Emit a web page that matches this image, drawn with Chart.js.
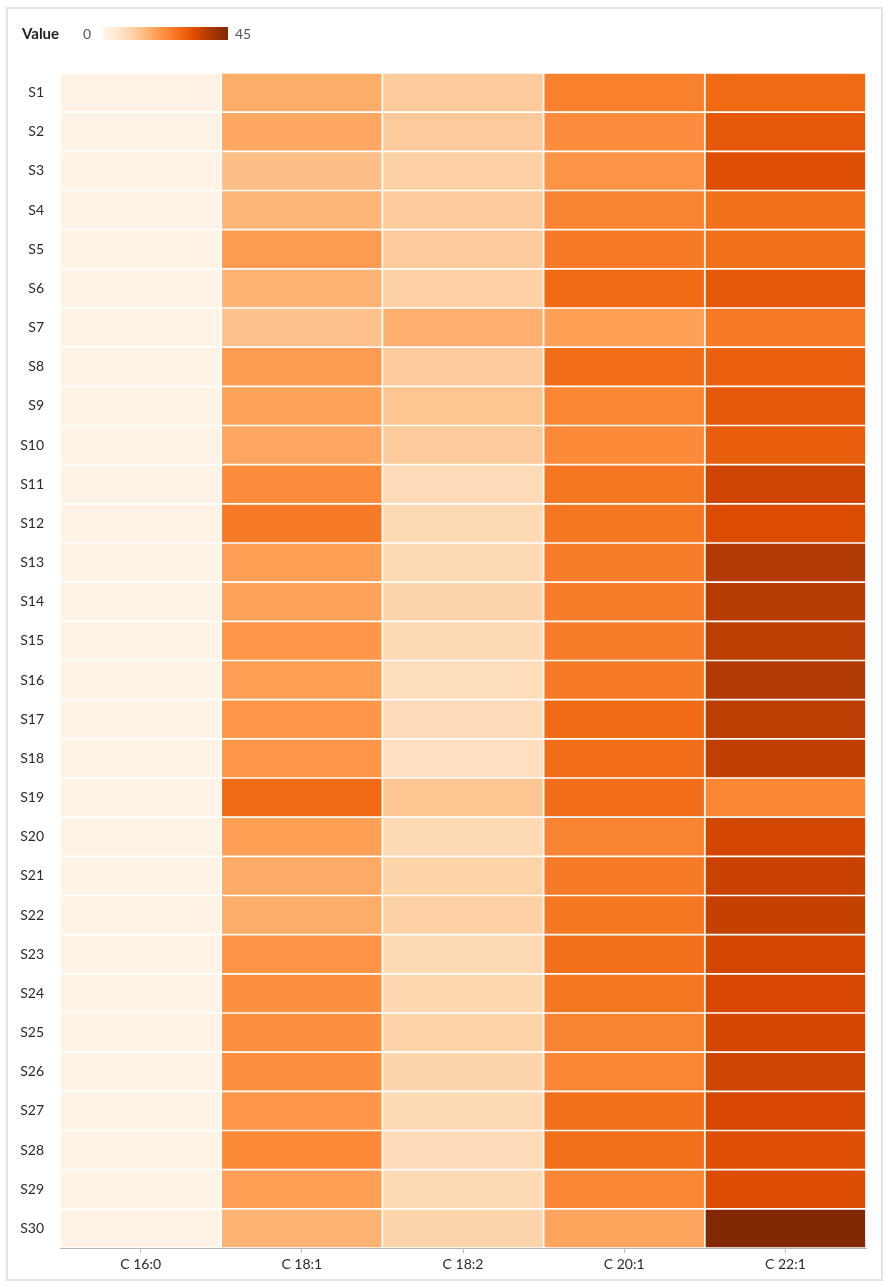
<!DOCTYPE html>
<html>
<head>
<meta charset="utf-8">
<title>Fatty acid heatmap</title>
<script src="https://cdn.jsdelivr.net/npm/chart.js@4/dist/chart.umd.min.js"></script>
<style>
  html, body { margin: 0; padding: 0; background: #ffffff; }
  #wrap { width: 889px; height: 1287px; position: relative; }
</style>
</head>
<body>
<div id="wrap"><canvas id="heat"></canvas></div>
<script>
// Samples (rows) and fatty acids (columns)
const samples = Array.from({ length: 30 }, (_, i) => 'S' + (i + 1));
const acids = ['C 16:0', 'C 18:1', 'C 18:2', 'C 20:1', 'C 22:1'];

// Measured values per fatty acid, S1..S30
const c160 = [0.9, 0.8, 0.9, 0.8, 0.9, 0.8, 0.9, 0.8, 0.9, 0.8,
              0.8, 0.9, 0.8, 0.8, 0.9, 0.8, 0.8, 0.9, 1.0, 0.8,
              0.8, 0.9, 0.8, 0.8, 0.9, 0.8, 0.8, 0.9, 0.8, 0.9];
const c181 = [17, 18, 14, 15.5, 20, 16, 13.5, 20, 19, 18,
              22.5, 25.5, 19.5, 19, 21, 19.5, 21, 21, 28, 19.5,
              17.5, 17, 21.5, 22, 22, 22, 21, 23, 19.5, 16];
const c182 = [12, 12, 11, 12, 12, 11, 16.5, 12, 13, 12,
              8.5, 9, 9, 10, 9, 8, 8.5, 7.5, 13, 9,
              10.5, 11, 9, 9.5, 10.5, 10, 9, 8.5, 9, 10];
const c201 = [24.5, 22.5, 21.5, 24, 25.5, 28, 19.5, 27.5, 23.5, 23,
              26, 26, 25, 25, 25, 25.5, 28, 27.5, 27.5, 24,
              25.5, 26, 27, 26, 24, 23.5, 27, 27, 23.5, 18.5];
const c221 = [28, 31, 32.5, 27, 27, 31, 25.5, 29.5, 31, 30,
              35, 33, 38, 37.5, 37, 38, 37, 36.5, 23.5, 34.5,
              35.5, 36, 34.5, 34, 34.5, 35, 34, 32.5, 33, 44.5];
const columns = [c160, c181, c182, c201, c221];

// Colour scale domain
const scaleMin = 0;
const scaleMax = 45;

// Sequential orange ramp
const ramp = ['#fff5eb', '#fee6ce', '#fdd0a2', '#fdae6b', '#fd8d3c',
              '#f16913', '#d94801', '#a63603', '#7f2704'];

function hexToRgb(h) {
  return [parseInt(h.slice(1, 3), 16), parseInt(h.slice(3, 5), 16), parseInt(h.slice(5, 7), 16)];
}
const rampRgb = ramp.map(hexToRgb);

function colourFor(v) {
  let t = (v - scaleMin) / (scaleMax - scaleMin);
  t = Math.max(0, Math.min(1, t));
  const pos = t * (rampRgb.length - 1);
  const i = Math.min(Math.floor(pos), rampRgb.length - 2);
  const f = pos - i;
  const a = rampRgb[i], b = rampRgb[i + 1];
  const c = a.map((x, k) => Math.round(x + (b[k] - x) * f));
  return 'rgb(' + c.join(',') + ')';
}

// One stacked dataset per fatty acid; every cell spans one unit on x
const datasets = columns.map((vals, ci) => ({
  label: acids[ci],
  data: vals.map(() => 1),
  values: vals,
  backgroundColor: vals.map(colourFor),
  borderColor: '#ffffff',
  borderWidth: 1.2,
  borderSkipped: false,
  barPercentage: 1,
  categoryPercentage: 1
}));

const FONT = 'Lato, "Open Sans", sans-serif';

// Frame and colour legend
const decorations = {
  id: 'decorations',
  beforeDraw(chart) {
    const ctx = chart.ctx;
    ctx.save();
    ctx.fillStyle = '#ffffff';
    ctx.fillRect(0, 0, chart.width, chart.height);
    ctx.strokeStyle = '#e3e3e3';
    ctx.lineWidth = 2;
    ctx.strokeRect(7, 8, chart.width - 14, chart.height - 15);
    ctx.restore();
  },
  afterDraw(chart) {
    const ctx = chart.ctx;
    ctx.save();
    ctx.textBaseline = 'middle';
    ctx.fillStyle = '#1f1f1f';
    ctx.font = 'bold 15px ' + FONT;
    ctx.fillText('Value', 22, 34);
    ctx.fillStyle = '#555555';
    ctx.font = '14px ' + FONT;
    ctx.fillText(String(scaleMin), 83, 34);
    const gx = 103, gy = 27, gw = 125, gh = 13;
    const grad = ctx.createLinearGradient(gx, 0, gx + gw, 0);
    ramp.forEach((c, i) => grad.addColorStop(i / (ramp.length - 1), c));
    ctx.fillStyle = grad;
    ctx.fillRect(gx, gy, gw, gh);
    ctx.fillStyle = '#555555';
    ctx.fillText(String(scaleMax), gx + gw + 7, 34);
    ctx.restore();
  }
};

new Chart(document.getElementById('heat'), {
  type: 'bar',
  data: { labels: samples, datasets },
  options: {
    indexAxis: 'y',
    responsive: true,
    maintainAspectRatio: false,
    animation: false,
    layout: { padding: { left: 10, right: 23, top: 73, bottom: 8 } },
    plugins: {
      legend: { display: false },
      tooltip: {
        callbacks: {
          label: (item) => item.dataset.label + ': ' + item.dataset.values[item.dataIndex]
        }
      }
    },
    scales: {
      x: {
        type: 'linear',
        stacked: true,
        min: 0,
        max: acids.length,
        afterBuildTicks: (axis) => {
          axis.ticks = acids.map((_, i) => ({ value: i + 0.5 }));
        },
        afterFit: (axis) => { axis.height = 31; },
        grid: {
          drawOnChartArea: false,
          drawTicks: true,
          tickLength: 5,
          color: '#bdbdbd'
        },
        border: { display: true, color: '#b5b5b5', width: 1 },
        ticks: {
          autoSkip: false,
          maxRotation: 0,
          padding: 3,
          color: '#2a2a2a',
          font: { family: FONT, size: 14 },
          callback: (v) => acids[Math.floor(v)]
        }
      },
      y: {
        stacked: true,
        afterFit: (axis) => { axis.width = 50; },
        grid: { display: false },
        border: { display: false },
        ticks: {
          autoSkip: false,
          padding: 8,
          color: '#2a2a2a',
          font: { family: FONT, size: 14 }
        }
      }
    }
  },
  plugins: [decorations]
});
</script>
</body>
</html>
